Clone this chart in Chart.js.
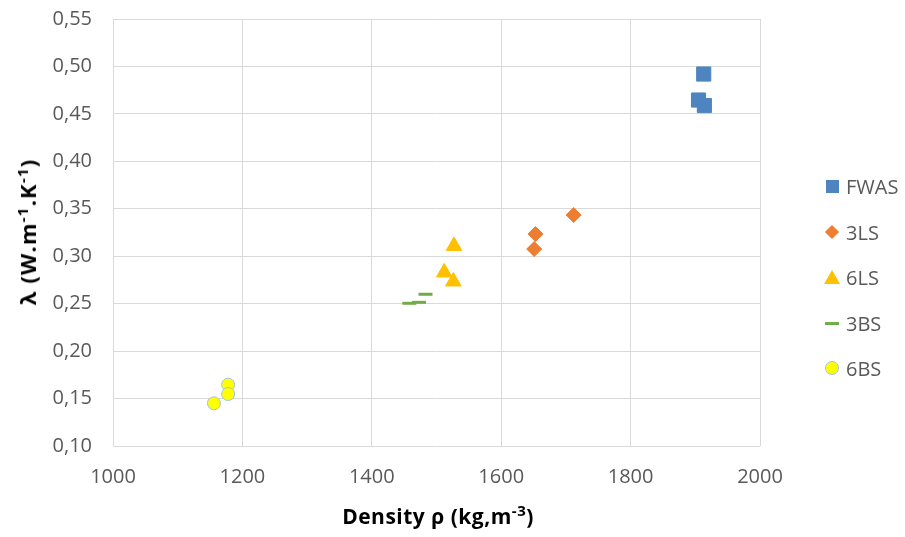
<!DOCTYPE html>
<html>
<head>
<meta charset="utf-8">
<title>Thermal conductivity vs density</title>
<script src="https://cdn.jsdelivr.net/npm/chart.js@4/dist/chart.umd.min.js"></script>
<style>
  html, body {
    margin: 0;
    padding: 0;
    background: #fff;
  }
  #wrap {
    position: relative;
    width: 905px;
    height: 537px;
    font-family: "Open Sans", sans-serif;
  }
  #chart {
    position: absolute;
    left: 0;
    top: 0;
  }
  .axis-title {
    position: absolute;
    font-weight: bold;
    color: #000;
    white-space: nowrap;
  }
  .axis-title sup {
    font-size: 15px;
    vertical-align: 8px;
    line-height: 0;
  }
  #xTitle {
    left: 0;
    width: 876px;
    text-align: center;
    top: 502px;
    font-size: 21px;
    letter-spacing: 0.5px;
  }
  #yTitle {
    left: 27px;
    top: 232px;
    font-size: 22px;
    letter-spacing: 1.2px;
    transform: translate(-50%, -50%) rotate(-90deg);
  }
  #legend {
    position: absolute;
    left: 824px;
    top: 173px;
    font-size: 20px;
    color: #595959;
  }
  .item {
    height: 45.5px;
    display: flex;
    align-items: flex-start;
  }
  .mark {
    width: 16px;
    height: 26px;
    position: relative;
    margin-right: 6px;
  }
  .mark span {
    position: absolute;
  }
  .sq { left: 2px; top: 7px; width: 13px; height: 13px; background: #4e85c1; }
  .dia { left: 3px; top: 8px; width: 10px; height: 10px; background: #ed7d31; transform: rotate(45deg); }
  .tri { left: 0; top: 6px; width: 0; height: 0; border-left: 8px solid transparent; border-right: 8px solid transparent; border-bottom: 14px solid #ffc000; }
  .dash { left: 1px; top: 12px; width: 14px; height: 3px; background: #70ad47; }
  .dot { left: 1px; top: 6px; width: 12px; height: 12px; border-radius: 50%; background: #ffff00; border: 1px solid #9dc3e6; }
</style>
</head>
<body>
<div id="wrap">
  <canvas id="chart" width="905" height="537"></canvas>
  <div id="yTitle" class="axis-title">λ (W.m<sup>-1</sup>.K<sup>-1</sup>)</div>
  <div id="xTitle" class="axis-title">Density ρ (kg,m<sup>-3</sup>)</div>
  <div id="legend">
    <div class="item"><div class="mark"><span class="sq"></span></div>FWAS</div>
    <div class="item"><div class="mark"><span class="dia"></span></div>3LS</div>
    <div class="item"><div class="mark"><span class="tri"></span></div>6LS</div>
    <div class="item"><div class="mark"><span class="dash"></span></div>3BS</div>
    <div class="item"><div class="mark"><span class="dot"></span></div>6BS</div>
  </div>
</div>
<script>
// density (kg/m3) and conductivity values per sample
const fwasDensity = [1913, 1905, 1914]
const fwasLambda = [0.492, 0.4646, 0.4588]
const ls3Density = [1712, 1653, 1651]
const ls3Lambda = [0.3434, 0.3234, 0.3076]
const ls6Density = [1527, 1512, 1526]
const ls6Lambda = [0.3108, 0.2829, 0.2734]
const bs3Density = [1483, 1458, 1473]
const bs3Lambda = [0.2599, 0.2504, 0.2514]
const bs6Density = [1178, 1178, 1156]
const bs6Lambda = [0.1646, 0.1548, 0.145]

const xTicks = [1000, 1200, 1400, 1600, 1800, 2000]
const yTicks = [0.1, 0.15, 0.2, 0.25, 0.3, 0.35, 0.4, 0.45, 0.5, 0.55]

function toPoints(xs, ys) {
  return xs.map((x, i) => ({ x: x, y: ys[i] }))
}

document.addEventListener("DOMContentLoaded", () => {
  const ctx = document.getElementById("chart").getContext("2d")
  new Chart(ctx, {
    type: "scatter",
    data: {
      datasets: [
        {
          label: "FWAS",
          data: toPoints(fwasDensity, fwasLambda),
          pointStyle: "rect",
          pointRadius: 10,
          backgroundColor: "#4e85c1",
          borderColor: "#4e85c1",
          borderWidth: 1,
        },
        {
          label: "3LS",
          data: toPoints(ls3Density, ls3Lambda),
          pointStyle: "rectRot",
          pointRadius: 7.5,
          backgroundColor: "#ed7d31",
          borderColor: "#ed7d31",
          borderWidth: 1,
        },
        {
          label: "6LS",
          data: toPoints(ls6Density, ls6Lambda),
          pointStyle: "triangle",
          pointRadius: 9,
          backgroundColor: "#ffc000",
          borderColor: "#ffc000",
          borderWidth: 1,
        },
        {
          label: "3BS",
          data: toPoints(bs3Density, bs3Lambda),
          pointStyle: "line",
          pointRadius: 7,
          backgroundColor: "#70ad47",
          borderColor: "#70ad47",
          borderWidth: 3,
        },
        {
          label: "6BS",
          data: toPoints(bs6Density, bs6Lambda),
          pointStyle: "circle",
          pointRadius: 6.5,
          backgroundColor: "#ffff00",
          borderColor: "#9dc3e6",
          borderWidth: 1,
        },
      ],
    },
    options: {
      responsive: false,
      animation: false,
      layout: {
        padding: { left: 0, top: 19, right: 145, bottom: 0 },
      },
      plugins: {
        legend: { display: false },
        tooltip: { enabled: false },
      },
      scales: {
        x: {
          type: "linear",
          min: 1000,
          max: 2000,
          afterFit: (scale) => {
            scale.height = 91
          },
          afterBuildTicks: (scale) => {
            scale.ticks = xTicks.map((v) => ({ value: v }))
          },
          grid: { color: "#d9d9d9", drawTicks: false },
          border: { display: false },
          ticks: {
            color: "#595959",
            font: { family: "Open Sans", size: 20 },
            padding: 19,
            maxRotation: 0,
            callback: (v) => String(v),
          },
        },
        y: {
          type: "linear",
          min: 0.1,
          max: 0.55,
          afterFit: (scale) => {
            scale.width = 113
            // labels only overhang by half a line, don't reserve tick padding above
            scale.paddingTop = 0
            scale.paddingBottom = 0
          },
          afterBuildTicks: (scale) => {
            scale.ticks = yTicks.map((v) => ({ value: v }))
          },
          grid: { color: "#d9d9d9", drawTicks: false },
          border: { display: false },
          ticks: {
            color: "#595959",
            font: { family: "Open Sans", size: 20 },
            padding: 21,
            callback: (v) => v.toFixed(2).replace(".", ","),
          },
        },
      },
    },
  })
})
</script>
</body>
</html>
